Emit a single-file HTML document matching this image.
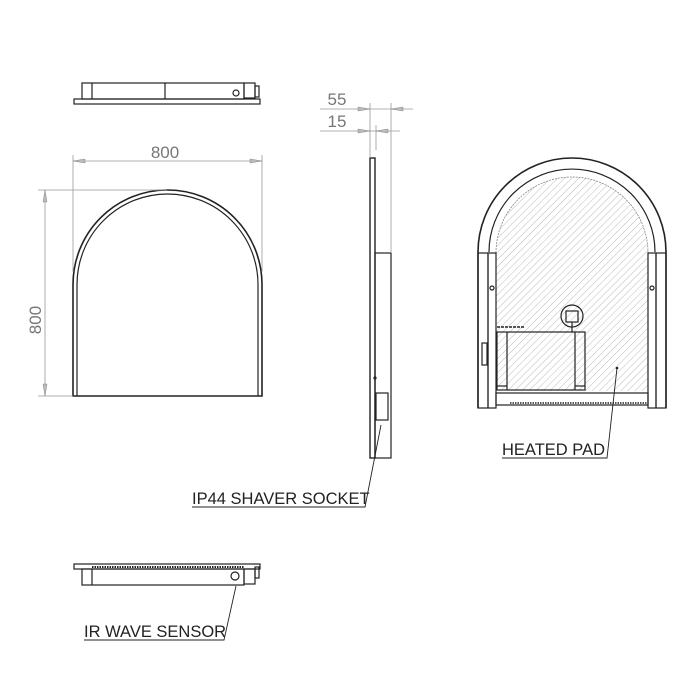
<!DOCTYPE html>
<html><head><style>
html,body{margin:0;padding:0;background:#fff;}
svg{display:block;}
text{font-family:"Liberation Sans","DejaVu Sans",sans-serif;}
</style></head><body>
<svg width="700" height="700" viewBox="0 0 700 700" xmlns="http://www.w3.org/2000/svg">
<defs>
<pattern id="h" width="5" height="5" patternUnits="userSpaceOnUse" patternTransform="rotate(45)">
<line x1="0" y1="0" x2="0" y2="5" stroke="#aaa" stroke-width="0.8"/>
</pattern>
</defs>
<g fill="none" stroke="#222" stroke-width="1.2">
<!-- top view -->
<rect x="74" y="99" width="186" height="5"/>
<rect x="82" y="83" width="162" height="16"/>
<line x1="92" y1="83" x2="92" y2="99"/>
<line x1="165" y1="83" x2="165" y2="99"/>
<circle cx="236" cy="93" r="3"/>
<rect x="244" y="83" width="11" height="15"/>
<rect x="255" y="86" width="4" height="11"/>
<!-- front view -->
<path d="M73 396 V284.5 A94.5 94.5 0 0 1 262 284.5 V396 Z" stroke-width="1.6"/>
<path d="M77 396 V284.5 A90.5 90.5 0 0 1 258 284.5 V396"/>
<!-- side view -->
<rect x="370" y="158" width="5" height="300" stroke-width="1.4"/>
<rect x="375" y="253" width="16" height="205"/>
<rect x="376" y="393" width="12" height="27"/>
<circle cx="375" cy="378" r="1" fill="#222"/>
<!-- bottom view -->
<rect x="74" y="564" width="186" height="5"/>
<rect x="82" y="569" width="162" height="16"/>
<line x1="92" y1="569" x2="92" y2="585"/>
<line x1="92" y1="567" x2="244" y2="567" stroke-dasharray="1.5 1" stroke-width="2"/>
<circle cx="235" cy="576" r="4"/>
<rect x="244" y="569" width="11" height="15"/>
<rect x="255" y="567" width="4" height="11"/>
<!-- right view -->
<path d="M496 391 V330 H585 V391 Z M496 330 V253 A76 76 0 0 1 648 253 V391 H585 V332 H496" fill="url(#h)" stroke="none"/>
<path d="M496 391 V253 A76 76 0 0 1 648 253 V391" stroke="#888" stroke-dasharray="2 1" stroke-width="0.8"/>
<path d="M478 408 V252 A94 94 0 0 1 666 252 V408" stroke-width="1.6"/>
<path d="M489 252 A83 83 0 0 1 655 252"/>
<rect x="478" y="253" width="10" height="155"/>
<rect x="488" y="253" width="8" height="155"/>
<rect x="656" y="253" width="10" height="155"/>
<rect x="648" y="253" width="8" height="155"/>
<rect x="497" y="332" width="88" height="58"/>
<line x1="507" y1="332" x2="507" y2="390"/>
<line x1="575" y1="332" x2="575" y2="390"/>
<line x1="497" y1="386" x2="507" y2="386"/>
<line x1="575" y1="386" x2="585" y2="386"/>
<line x1="497" y1="327" x2="525" y2="327" stroke-dasharray="3 1" stroke-width="1.6"/>
<circle cx="572" cy="316" r="11"/>
<rect x="566" y="311" width="12" height="11"/>
<line x1="572" y1="322" x2="572" y2="332"/>
<rect x="496" y="393" width="152" height="12"/>
<line x1="510" y1="403" x2="648" y2="403" stroke-dasharray="1.5 1" stroke-width="1.5"/>
<rect x="482" y="343" width="5" height="22"/>
<circle cx="492" cy="288" r="2"/>
<circle cx="652" cy="288" r="2"/>
<!-- leaders -->
<polyline points="502,458 607,458 617,368" stroke-width="0.9"/>
<polyline points="192,507 365,507 381,425" stroke-width="0.9"/>
<polyline points="84,640 224,640 236,586" stroke-width="0.9"/>
</g>
<circle cx="617" cy="368" r="1.3" fill="#222"/>
<!-- dimensions -->
<g stroke="#999" stroke-width="0.8" fill="none">
<line x1="73" y1="161" x2="262" y2="161"/>
<line x1="73" y1="155" x2="73" y2="272"/>
<line x1="262" y1="155" x2="262" y2="272"/>
<line x1="45" y1="190" x2="45" y2="396"/>
<line x1="38" y1="190" x2="167" y2="190"/>
<line x1="38" y1="396" x2="73" y2="396"/>
<line x1="320" y1="109" x2="413" y2="109"/>
<line x1="320" y1="131" x2="400" y2="131"/>
<line x1="370" y1="103" x2="370" y2="158"/>
<line x1="391" y1="103" x2="391" y2="253"/>
<line x1="376" y1="125" x2="376" y2="150"/>
</g>
<g fill="#bbb" stroke="#888" stroke-width="0.5">
<path d="M73 161 l12 -2 v4 z"/><path d="M262 161 l-12 -2 v4 z"/>
<path d="M45 190 l-2 12 h4 z"/><path d="M45 396 l-2 -12 h4 z"/>
<path d="M370 109 l-12 -2 v4 z"/><path d="M391 109 l12 -2 v4 z"/>
<path d="M370 131 l-12 -2 v4 z"/><path d="M376 131 l12 -2 v4 z"/>
</g>
<g fill="#777" font-size="17">
<text x="165" y="158" text-anchor="middle">800</text>
<text x="337" y="105" text-anchor="middle">55</text>
<text x="337" y="127" text-anchor="middle">15</text>
<text transform="translate(41,320) rotate(-90)" text-anchor="middle">800</text>
</g>
<g fill="#222" font-size="16.5">
<text x="502" y="455">HEATED PAD</text>
<text x="192" y="504">IP44 SHAVER SOCKET</text>
<text x="84" y="637">IR WAVE SENSOR</text>
</g>
</svg>
</body></html>
